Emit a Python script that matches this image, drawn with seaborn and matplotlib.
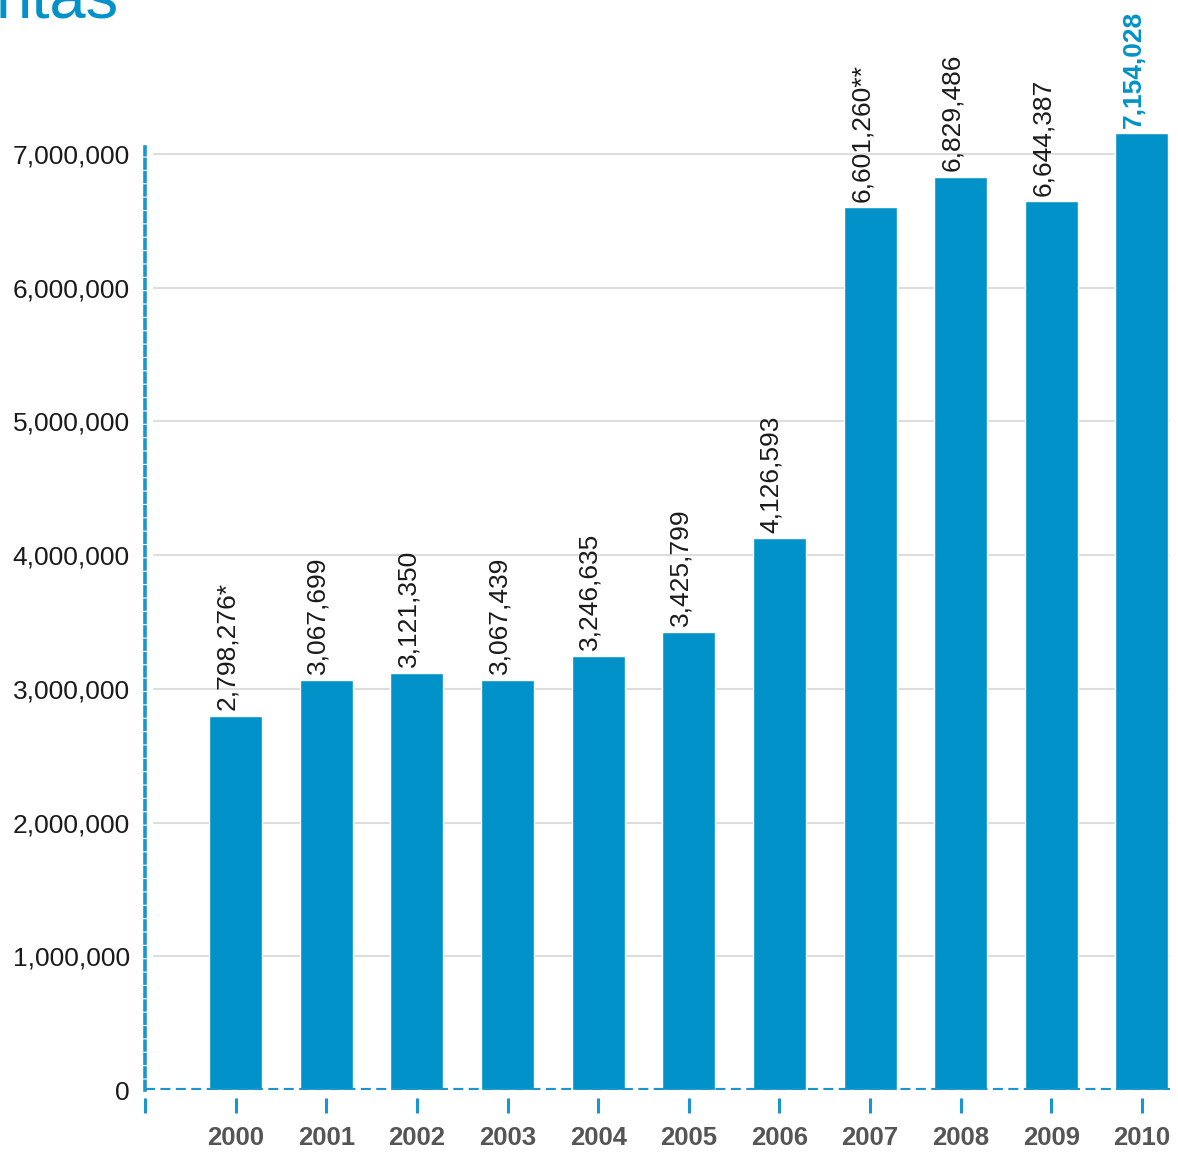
import matplotlib
matplotlib.use("Agg")
import matplotlib.pyplot as plt
import seaborn as sns
import pandas as pd

years = ["2000", "2001", "2002", "2003", "2004", "2005",
         "2006", "2007", "2008", "2009", "2010"]
visits = [2798276, 3067699, 3121350, 3067439, 3246635, 3425799,
          4126593, 6601260, 6829486, 6644387, 7154028]
notes = ["*", "", "", "", "", "", "", "**", "", "", ""]
y_ticks = [0, 1000000, 2000000, 3000000, 4000000, 5000000, 6000000, 7000000]

BLUE = "#0092c8"
AXIS_BLUE = "#1a95cf"
DASH = (0, (2.4, 1.3))

sns.set_theme(style="white")
plt.rcParams["font.family"] = ["Liberation Sans", "DejaVu Sans"]

fig = plt.figure(figsize=(11.78, 11.52), dpi=100)
ax = fig.add_axes([145 / 1178, 1 - 1090 / 1152, (1170 - 145) / 1178, 1090 / 1152])

df = pd.DataFrame({"year": years, "visits": visits})
sns.barplot(data=df, x="year", y="visits", color=BLUE, saturation=1,
            width=0.585, ax=ax, zorder=3)

ax.set_xlim(-1, 10.31)
ax.set_ylim(0, 8.15e6)

# light horizontal guides for each million
for t in y_ticks[1:]:
    ax.axhline(t, xmin=0.009, xmax=1, color="#dddddd", lw=1.5, zorder=1)
# dashed baseline
ax.axhline(0, color=AXIS_BLUE, lw=3.0, ls=DASH, zorder=4)

ax.set_yticks(y_ticks)
ax.set_yticklabels([f"{t:,}" for t in y_ticks])
ax.tick_params(axis="y", left=False, length=0, pad=11, labelsize=19,
               labelcolor="#1a1a1a")

ax.set_xticks(range(-1, len(years)))
ax.set_xticklabels([""] + years)
ax.tick_params(axis="x", bottom=True, direction="out", length=11, width=2.2,
               color=AXIS_BLUE, pad=9, labelsize=18.5, labelcolor="#555555")

ax.set_xlabel("")
ax.set_ylabel("")

for side in ["top", "right"]:
    ax.spines[side].set_visible(False)
ax.spines["bottom"].set_position(("outward", 6))
ax.spines["bottom"].set_color("none")
ax.spines["left"].set_color(AXIS_BLUE)
ax.spines["left"].set_linewidth(2.6)
ax.spines["left"].set_linestyle(DASH)
ax.spines["left"].set_bounds(0, 7.05e6)

# value labels above each bar
for i, (v, n) in enumerate(zip(visits, notes)):
    last = i == len(visits) - 1
    ax.annotate(f"{v:,}{n}", xy=(i, v), xytext=(-6, 4), textcoords="offset points",
                rotation=90, ha="center", va="bottom", fontsize=19,
                color=BLUE if last else "#1a1a1a",
                fontweight="bold" if last else "normal", zorder=5)

fig.text(-0.004, 1 - 18 / 1152, "ntas", color=BLUE, fontsize=47,
         ha="left", va="baseline")

# year labels in bold once the ticks exist
fig.canvas.draw()
for lab in ax.get_xticklabels():
    lab.set_fontweight("bold")

fig.savefig("out.png", dpi=100)
